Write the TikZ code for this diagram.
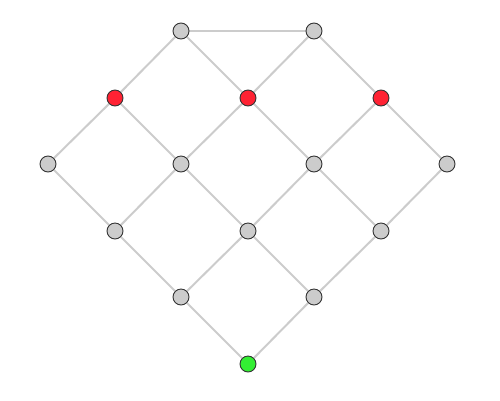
\documentclass[tikz,border=0pt]{standalone}
\usetikzlibrary{backgrounds}
\definecolor{edgegray}{HTML}{CCCCCC}
\definecolor{nodegray}{HTML}{CCCCCC}
\definecolor{nodered}{HTML}{FF2233}
\definecolor{nodegreen}{HTML}{33EE33}
\definecolor{nodeborder}{HTML}{333333}
\begin{document}
\begin{tikzpicture}[x=1pt,y=-1pt,
  vtx/.style={circle,draw=nodeborder,line width=0.9pt,minimum size=16pt,inner sep=0pt,fill=nodegray},
  red/.style={vtx,fill=nodered},
  green/.style={vtx,fill=nodegreen},
  edge/.style={draw=edgegray,line width=2pt}]
\useasboundingbox (0,0) rectangle (500,400);
\node[vtx] (a1) at (181,31) {};
\node[vtx] (a2) at (314,31) {};
\node[red] (b1) at (115,98) {};
\node[red] (b2) at (248,98) {};
\node[red] (b3) at (381,98) {};
\node[vtx] (c1) at (48,164) {};
\node[vtx] (c2) at (181,164) {};
\node[vtx] (c3) at (314,164) {};
\node[vtx] (c4) at (447,164) {};
\node[vtx] (d1) at (115,231) {};
\node[vtx] (d2) at (248,231) {};
\node[vtx] (d3) at (381,231) {};
\node[vtx] (e1) at (181,297) {};
\node[vtx] (e2) at (314,297) {};
\node[green] (f1) at (248,364) {};
\begin{scope}[on background layer]
\draw[edge] (a1) -- (a2);
\draw[edge] (a1) -- (b1);
\draw[edge] (a1) -- (b2);
\draw[edge] (a2) -- (b2);
\draw[edge] (a2) -- (b3);
\draw[edge] (b1) -- (c1);
\draw[edge] (b1) -- (c2);
\draw[edge] (b2) -- (c2);
\draw[edge] (b2) -- (c3);
\draw[edge] (b3) -- (c3);
\draw[edge] (b3) -- (c4);
\draw[edge] (c1) -- (d1);
\draw[edge] (c2) -- (d1);
\draw[edge] (c2) -- (d2);
\draw[edge] (c3) -- (d2);
\draw[edge] (c3) -- (d3);
\draw[edge] (c4) -- (d3);
\draw[edge] (d1) -- (e1);
\draw[edge] (d2) -- (e1);
\draw[edge] (d2) -- (e2);
\draw[edge] (d3) -- (e2);
\draw[edge] (e1) -- (f1);
\draw[edge] (e2) -- (f1);
\end{scope}
\end{tikzpicture}
\end{document}
